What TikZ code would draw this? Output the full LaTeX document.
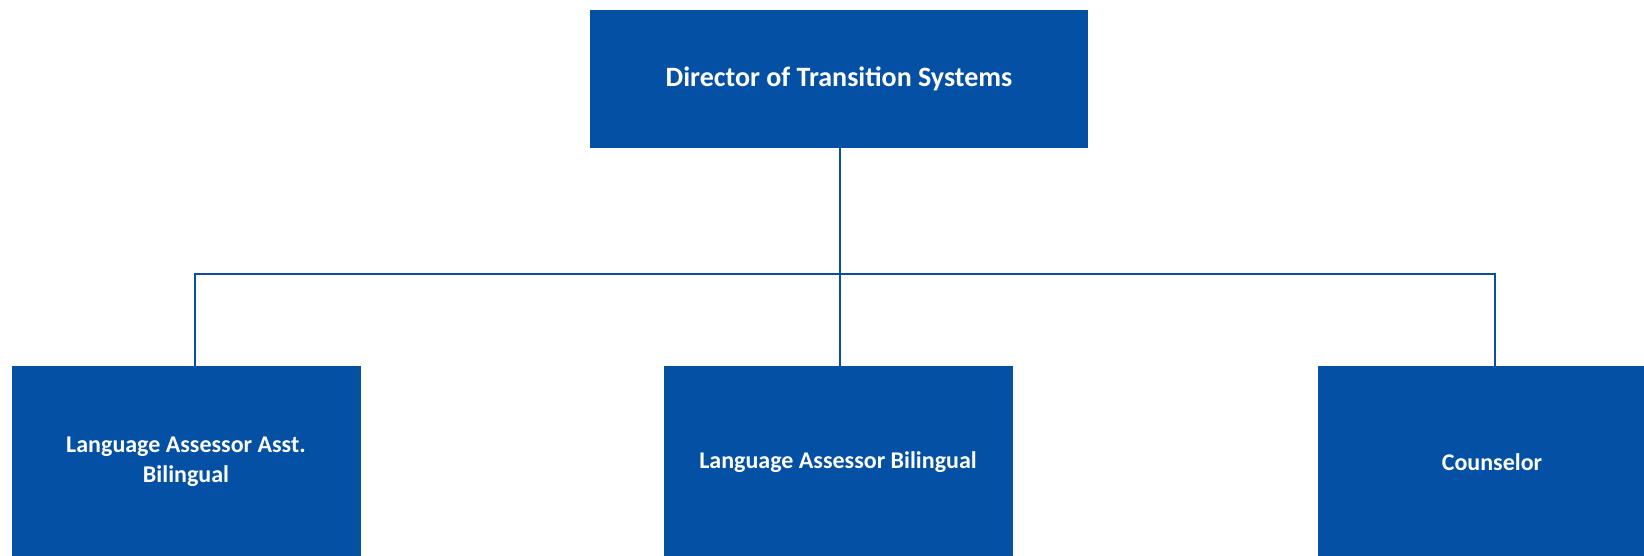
\documentclass[tikz,border=0pt]{standalone}
\usepackage{fontspec}
\setmainfont{Carlito}
\definecolor{orgblue}{HTML}{0450A4}
\begin{document}
\begin{tikzpicture}[x=1pt,y=1pt,
	head/.style={ fill=orgblue, text=white, font=\bfseries\fontsize{28}{32}\selectfont, minimum width=498pt, minimum height=138pt, inner sep=0pt },
	post/.style={ fill=orgblue, text=white, font=\bfseries\fontsize{24}{30}\selectfont, align=center, minimum width=349pt, minimum height=192pt, inner sep=0pt },
	link/.style={ draw=orgblue, line width=1.4pt }
]
\useasboundingbox (0,0) rectangle (1644,556);

\node at (839,477) (director) [head] {Director of Transition Systems};
\node at (186,94) (asst) [post] {Language Assessor Asst.\\Bilingual};
\node at (838,94) (bilingual) [post] {Language Assessor Bilingual};
\node at (1492,94) (counselor) [post] {Counselor};

\coordinate (bar) at (840,282);
\draw[link] (director.south -| bar) to (bar |- bilingual.north);
\draw[link] ([xshift=9pt]asst.north) |- (bar) -| ([xshift=3pt]counselor.north);

\end{tikzpicture}
\end{document}
